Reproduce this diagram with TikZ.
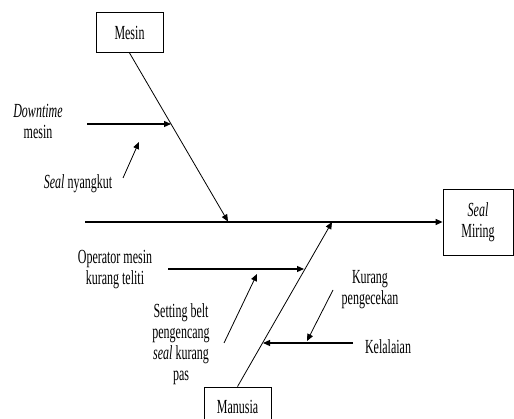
\documentclass[tikz,border=0pt]{standalone}
\usepackage{fontspec}
\setmainfont{Liberation Serif}[FakeStretch=0.6]
\usetikzlibrary{arrows.meta,positioning}

\begin{document}
\begin{tikzpicture}[x=1pt, y=-1pt,
  every node/.style={font=\fontsize{20}{21}\selectfont},
  catbox/.style={draw, line width=0.8pt, minimum width=67pt, minimum height=40pt, inner sep=0pt},
  cause/.style={align=center, inner sep=0pt},
  arr/.style={-{Triangle[length=7pt,width=6pt]}}]
  \clip (0,0) rectangle (514,419);

  % category boxes and effect
  \node[catbox] (mesin) at (129.5,32.5) {Mesin};
  \node[catbox] (manusia) at (237.5,407) {Manusia};
  \node[catbox, minimum width=70pt, minimum height=66pt, align=center] (effect) at (478,222) {\textit{Seal}\\Miring};

  % spine
  \coordinate (tail) at (85,222);
  \draw[arr, line width=1.2pt] (tail) -- (effect.west);

  % bones
  \coordinate (mtip) at (228,221.5);
  \coordinate (htip) at (332,222);
  \draw[arr, line width=0.8pt] (mesin.south) -- (mtip);
  \draw[arr, line width=0.8pt] (manusia.north) -- (htip);

  % causes of Mesin
  \node[cause] (downtime) at (38,121) {\textit{Downtime}\\mesin};
  \node[cause] (nyangkut) at (78,184) {\textit{Seal} nyangkut};
  \coordinate (dt0) at (87,124);
  \coordinate (dt1) at (171,124);
  \coordinate (ny0) at (123,178);
  \coordinate (ny1) at (139,142);
  \draw[arr, line width=1.2pt] (dt0) -- (dt1);
  \draw[arr, line width=0.8pt] (ny0) -- (ny1);

  % causes of Manusia
  \node[cause] (operator) at (115,270) {Operator mesin\\kurang teliti};
  \node[cause] (setting) at (181,344) {Setting belt\\pengencang\\\textit{seal} kurang\\pas};
  \node[cause] (cek) at (370,290) {Kurang\\pengecekan};
  \node[cause] (lalai) at (388,347) {Kelalaian};
  \coordinate (op0) at (168,269);
  \coordinate (op1) at (304,269);
  \coordinate (st0) at (224,343);
  \coordinate (st1) at (257,274);
  \coordinate (ck0) at (333,290);
  \coordinate (ck1) at (307,341);
  \coordinate (ll0) at (353,343);
  \coordinate (ll1) at (263,343);
  \draw[arr, line width=1.2pt] (op0) -- (op1);
  \draw[arr, line width=0.8pt] (st0) -- (st1);
  \draw[arr, line width=0.8pt] (ck0) -- (ck1);
  \draw[arr, line width=1.2pt] (ll0) -- (ll1);
\end{tikzpicture}
\end{document}
